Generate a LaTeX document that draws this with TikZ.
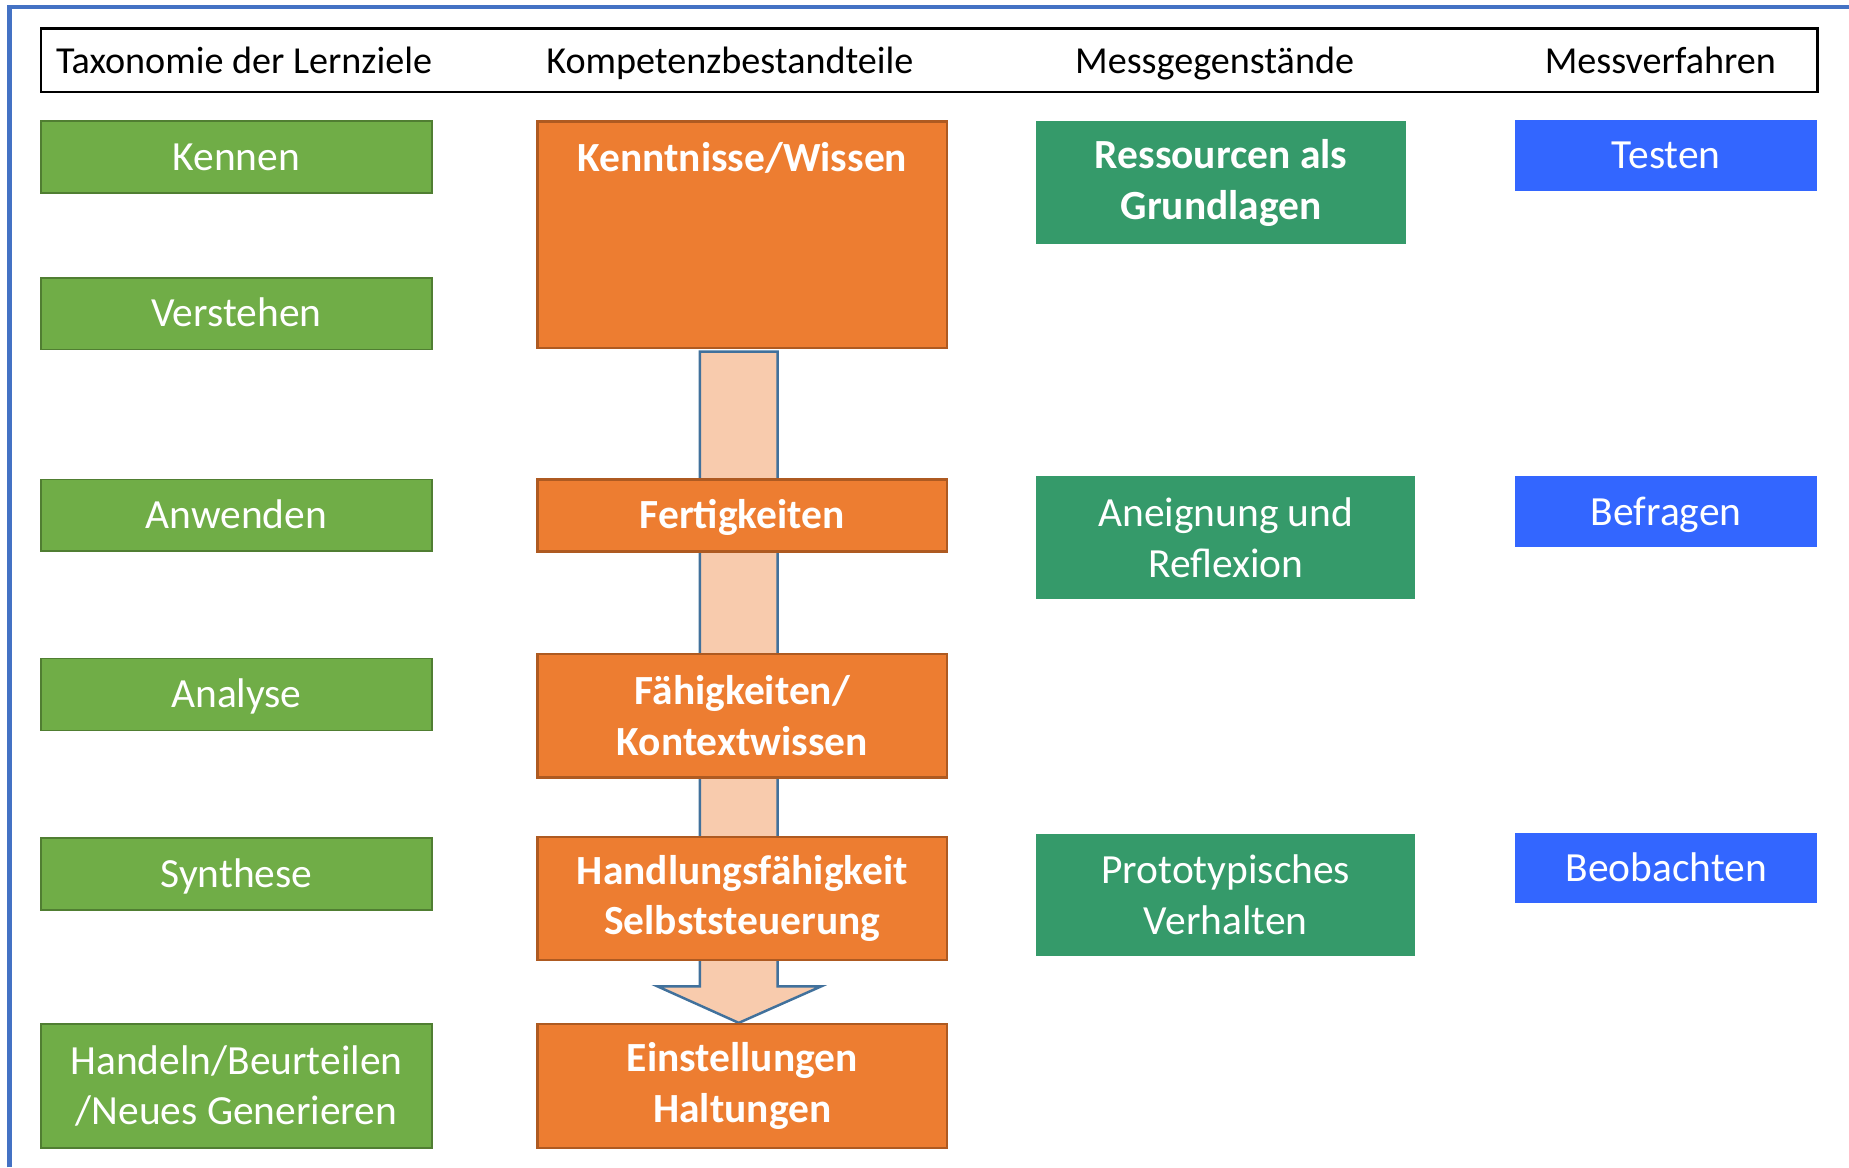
\documentclass[tikz,border=0pt]{standalone}
\usepackage{fontspec}
\setmainfont{Carlito}
\usetikzlibrary{calc,backgrounds}
\definecolor{lzgreen}{RGB}{112,173,71}
\definecolor{lzgreendk}{RGB}{80,126,50}
\definecolor{kborange}{RGB}{237,125,49}
\definecolor{kborangedk}{RGB}{174,90,33}
\definecolor{mggreen}{RGB}{53,154,106}
\definecolor{mvblue}{RGB}{51,102,255}
\definecolor{frameblue}{RGB}{68,114,196}
\definecolor{arrfill}{RGB}{248,203,173}
\definecolor{arrline}{RGB}{65,113,156}

\tikzset{
  box/.style={rectangle,inner sep=0pt,align=center,text=white,
    font=\fontsize{10}{12.2}\selectfont},
  single/.style={text height=8pt,text depth=1.6pt},
  gbox/.style={box,fill=lzgreen,draw=lzgreendk,line width=0.4pt,
    minimum width=3.31cm,minimum height=0.61cm},
  obox/.style={box,fill=kborange,draw=kborangedk,line width=0.6pt,
    minimum width=3.47cm,font=\fontsize{10}{12.2}\selectfont\bfseries},
  mbox/.style={box,fill=mggreen,minimum width=3.21cm,minimum height=1.04cm},
  vbox/.style={box,single,fill=mvblue,minimum width=2.56cm,minimum height=0.60cm},
  hdr/.style={inner sep=0pt,anchor=base,font=\fontsize{9.2}{11}\selectfont}
}

\begin{document}
\begin{tikzpicture}[x=0.01cm,y=-0.01cm]
\useasboundingbox (0,0) rectangle (1568,990);

% Rahmen
\draw[frameblue,line width=0.04cm] (8,990) -- (8,6) -- (1568,6);

% Kopfzeile
\node[draw=black,line width=0.6pt,minimum width=15.06cm,minimum height=0.54cm,inner sep=0pt] (kopf) at (788,51) {};
\node[hdr] (h1) at (207,62) {Taxonomie der Lernziele};
\node[hdr] (h2) at (619,62) {Kompetenzbestandteile};
\node[hdr] (h3) at (1030,62) {Messgegenstände};
\node[hdr] (h4) at (1408,62) {Messverfahren};

% Taxonomie
\node[gbox,single] (kennen) at (200.5,133) {Kennen};
\node[gbox,single] (verstehen) at (200.5,266) {Verstehen};
\node[gbox,single] (anwenden) at (200.5,437) {Anwenden};
\node[gbox,single] (analyse) at (200.5,589) {Analyse};
\node[gbox,single] (synthese) at (200.5,741) {Synthese};
\node[gbox,minimum height=1.05cm] (handeln) at (200.5,921) {Handeln/Beurteilen\\/Neues Generieren};

% Kompetenzbestandteile
\node[obox,anchor=north,text height=0.42cm,text depth=1.50cm] (wissen) at (629.5,102) {Kenntnisse/Wissen};
\node[obox,single,minimum height=0.61cm] (fertig) at (629.5,437) {Fertigkeiten};
\node[obox,minimum height=1.05cm] (faehig) at (629.5,607) {Fähigkeiten/\\Kontextwissen};
\node[obox,minimum height=1.04cm] (handlung) at (629.5,762) {Handlungsfähigkeit\\Selbststeuerung};
\node[obox,minimum height=1.05cm] (einst) at (629.5,921) {Einstellungen\\Haltungen};

% Pfeil hinter den Kaesten
\begin{pgfonlayer}{background}
\draw[arrline,fill=arrfill,line width=0.6pt,line join=miter]
  ($(wissen.south)+(-36,2)$) -- ($(einst.north)+(-36,-31)$)
  -- ($(einst.north)+(-72,-31)$) -- ($(einst.north)+(-3,0)$)
  -- ($(einst.north)+(67,-31)$) -- ($(einst.north)+(30,-31)$)
  -- ($(wissen.south)+(30,2)$) -- cycle;
\end{pgfonlayer}

% Messgegenstaende
\node[mbox,minimum width=3.13cm,font=\fontsize{10}{12.2}\selectfont\bfseries] (ressourcen) at (1035.5,155) {Ressourcen als\\Grundlagen};
\node[mbox] (aneignung) at (1039.5,456) {Aneignung und\\Reflexion};
\node[mbox] (proto) at (1039.5,759) {Prototypisches\\Verhalten};

% Messverfahren
\node[vbox] (testen) at (1413,132) {Testen};
\node[vbox] (befragen) at (1413,434) {Befragen};
\node[vbox] (beobachten) at (1413,736) {Beobachten};

\end{tikzpicture}
\end{document}
